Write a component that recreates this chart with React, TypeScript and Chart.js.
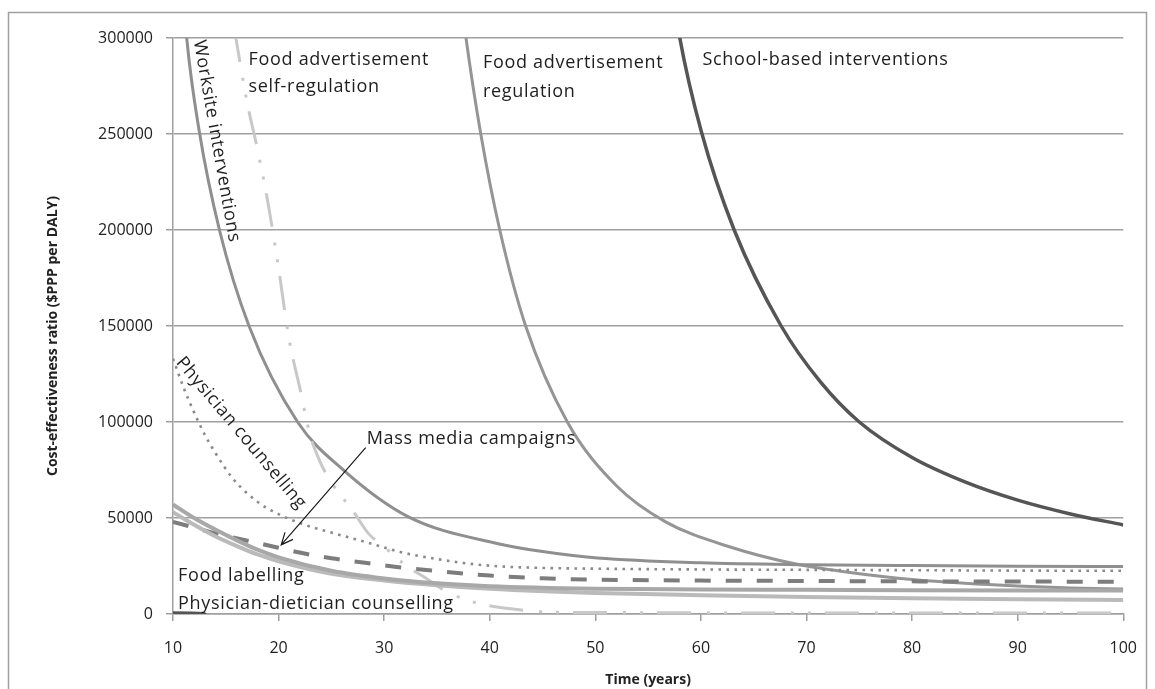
import React, { useEffect, useRef } from 'react';
import { Chart, registerables } from 'chart.js';

Chart.register(...registerables);

// ---------- DATA ----------
const xTickLabels = ['10', '20', '30', '40', '50', '60', '70', '80', '90', '100'];
const yTickLabels = ['0', '50000', '100000', '150000', '200000', '250000', '300000'];
const xTitle = 'Time (years)';
const yTitle = 'Cost-effectiveness ratio ($PPP per DALY)';

const schoolYears = [10, 13, 14, 30, 57.4, 58.0, 60.05, 63.15, 67.6, 71.3, 75.0, 80, 85, 90, 95, 100];
const schoolValues = [500, 0, -30000, null, 322000, 300000, 251000, 200000, 150000, 121000, 100000, 81500, 68800, 59300, 52100, 46400];

const worksiteYears = [10.9, 11.3, 12.5, 14.4, 17.2, 21.8, 26.2, 32.3, 40.8, 45, 50.2, 60, 70, 80, 90, 100];
const worksiteValues = [330000, 300000, 251000, 200000, 150000, 100000, 74700, 50600, 36600, 32500, 29200, 26700, 25700, 25200, 24900, 24700];

const adRegYears = [37.3, 37.75, 39.15, 40.95, 43.4, 47.35, 52.05, 56.65, 62.7, 69, 75, 80, 85, 90, 95, 100];
const adRegValues = [320000, 300000, 250000, 200000, 150000, 100000, 66500, 48000, 35000, 26000, 21000, 18000, 16000, 14600, 13600, 13000];

const selfRegYears = [15.8, 17, 18, 19, 20, 21, 22, 23, 24, 25, 26, 27, 28.5, 30, 32, 34, 36, 38, 40, 42, 45, 50, 60, 80, 100];
const selfRegValues = [305000, 267000, 242000, 214000, 180000, 143000, 118000, 93000, 78500, 68500, 61000, 54000, 42000, 35000, 25500, 18500, 11300, 7000, 4300, 2700, 1100, 800, 600, 500, 500];

const physCounsYears = [10, 11, 12, 13, 14, 15.6, 17.2, 18.5, 20, 22.2, 25.4, 28.5, 31.6, 34.8, 37.9, 41, 45, 50, 60, 70, 80, 90, 100];
const physCounsValues = [133000, 118000, 105000, 93500, 84000, 71000, 62000, 56500, 52000, 47000, 41800, 37100, 32200, 28800, 26300, 24800, 24000, 23600, 23200, 23000, 22800, 22600, 22500];

const massMediaYears = [10, 12, 14, 16, 18, 20, 22, 25, 28, 31, 35, 40, 45, 50, 60, 70, 80, 90, 100];
const massMediaValues = [48000, 45000, 42000, 39500, 37000, 34500, 32000, 29000, 26800, 24600, 22400, 20000, 18600, 17900, 17400, 17200, 17000, 16900, 16800];

const labelYears = [10, 12, 14, 16, 18, 20, 25, 30, 35, 40, 50, 60, 70, 80, 90, 100];
const foodLabellingValues = [57000, 50000, 44000, 38500, 33500, 29500, 22500, 18500, 16000, 14500, 13200, 12800, 12600, 12400, 12300, 12200];
const physDietValues = [53000, 46500, 40500, 35500, 31000, 27500, 21000, 17500, 15000, 13200, 11000, 9800, 8900, 8200, 7700, 7300];

// ---------- ANNOTATIONS ----------
const LABELS = [
  { text: 'Food advertisement', t: 17.15, v: 288800, angle: 0 },
  { text: 'self-regulation', t: 17.15, v: 274700, angle: 0 },
  { text: 'Food advertisement', t: 39.35, v: 287200, angle: 0 },
  { text: 'regulation', t: 39.35, v: 272100, angle: 0 },
  { text: 'School-based interventions', t: 60.14, v: 288800, angle: 0 },
  { text: 'Mass media campaigns', t: 28.34, v: 91400, angle: 0 },
  { text: 'Food labelling', t: 10.47, v: 19800, angle: 0 },
  { text: 'Physician-dietician counselling', t: 10.47, v: 5200, angle: 0 },
  { text: 'Worksite interventions', t: 12.45, v: 298800, angle: 80 },
  { text: 'Physician counselling', t: 10.6, v: 132600, angle: 50 },
];
const ARROW = { fromT: 28.25, fromV: 86700, toT: 20.25, toV: 36000 };

const FONT = '"Open Sans", Lato, sans-serif';

function zip(xs: number[], ys: (number | null)[]) {
  return xs.map((x, i) => ({ x, y: ys[i] }));
}

const annotationPlugin = {
  id: 'annotations',
  afterDatasetsDraw(chart: any) {
    const { ctx, chartArea } = chart;
    const xs = chart.scales.x;
    const ys = chart.scales.y;
    const X = (t: number) => xs.getPixelForValue(t);
    const Y = (v: number) => ys.getPixelForValue(v);
    ctx.save();
    // outer border
    ctx.strokeStyle = '#a0a0a0';
    ctx.lineWidth = 1.5;
    ctx.strokeRect(8.5, 12.5, 1138, 700);

    ctx.fillStyle = '#1e1e1e';
    ctx.font = `18px ${FONT}`;
    try { (ctx as any).letterSpacing = '0.7px'; } catch (e) { /* ignore */ }
    ctx.textBaseline = 'middle';
    ctx.textAlign = 'left';
    for (const l of LABELS) {
      ctx.save();
      ctx.translate(X(l.t), Y(l.v));
      if (l.angle) ctx.rotate((l.angle * Math.PI) / 180);
      ctx.fillText(l.text, 0, 0);
      ctx.restore();
    }
    try { (ctx as any).letterSpacing = '0px'; } catch (e) { /* ignore */ }

    // arrow
    const x1 = X(ARROW.fromT), y1 = Y(ARROW.fromV);
    const x2 = X(ARROW.toT), y2 = Y(ARROW.toV);
    ctx.strokeStyle = '#1a1a1a';
    ctx.lineWidth = 1.2;
    ctx.beginPath();
    ctx.moveTo(x1, y1);
    ctx.lineTo(x2, y2);
    const ang = Math.atan2(y2 - y1, x2 - x1);
    const hl = 13, ha = 0.42;
    ctx.moveTo(x2 - hl * Math.cos(ang - ha), y2 - hl * Math.sin(ang - ha));
    ctx.lineTo(x2, y2);
    ctx.lineTo(x2 - hl * Math.cos(ang + ha), y2 - hl * Math.sin(ang + ha));
    ctx.stroke();

    // axis titles
    ctx.fillStyle = '#222';
    ctx.font = `bold 14px ${FONT}`;
    ctx.textAlign = 'center';
    ctx.fillText(xTitle, (chartArea.left + chartArea.right) / 2, 680);
    ctx.save();
    ctx.translate(53, 336);
    ctx.rotate(-Math.PI / 2);
    ctx.fillText(yTitle, 0, 0);
    ctx.restore();

    ctx.restore();
  },
};

export default function App() {
  const ref = useRef<HTMLCanvasElement | null>(null);

  useEffect(() => {
    if (!ref.current) return;
    const base = {
      pointRadius: 0,
      pointHoverRadius: 0,
      fill: false,
      cubicInterpolationMode: 'monotone' as const,
      borderCapStyle: 'butt' as const,
    };
    const chart = new Chart(ref.current, {
      type: 'line',
      data: {
        datasets: [
          { ...base, label: 'Food labelling', data: zip(labelYears, foodLabellingValues), borderColor: '#a8a8a8', borderWidth: 4 },
          { ...base, label: 'Physician-dietician counselling', data: zip(labelYears, physDietValues), borderColor: '#bababa', borderWidth: 4 },
          { ...base, label: 'Food advertisement self-regulation', data: zip(selfRegYears, selfRegValues), borderColor: '#c8c8c8', borderWidth: 3, borderDash: [34, 16, 3, 14, 3, 14] },
          { ...base, label: 'Mass media campaigns', data: zip(massMediaYears, massMediaValues), borderColor: '#7d7d7d', borderWidth: 4, borderDash: [16, 15] },
          { ...base, label: 'Physician counselling', data: zip(physCounsYears, physCounsValues), borderColor: '#8a8a8a', borderWidth: 2.6, borderDash: [2.6, 5.4] },
          { ...base, label: 'Worksite interventions', data: zip(worksiteYears, worksiteValues), borderColor: '#8f8f8f', borderWidth: 3 },
          { ...base, label: 'Food advertisement regulation', data: zip(adRegYears, adRegValues), borderColor: '#959595', borderWidth: 3 },
          { ...base, label: 'School-based interventions', data: zip(schoolYears, schoolValues), borderColor: '#555555', borderWidth: 3.5 },
        ],
      },
      options: {
        responsive: false,
        animation: false,
        events: [],
        layout: { padding: { left: 0, right: 25, top: 38, bottom: 0 } },
        plugins: { legend: { display: false }, tooltip: { enabled: false }, title: { display: false } },
        scales: {
          x: {
            type: 'linear',
            min: 10,
            max: 100,
            ticks: {
              stepSize: 10,
              padding: 18,
              color: '#222',
              font: { family: FONT, size: 16 },
              callback: (_v: any, i: number) => xTickLabels[i],
              maxRotation: 0,
            },
            grid: { drawOnChartArea: false, drawTicks: true, tickLength: 7, color: '#a0a0a0', lineWidth: 1.5 },
            border: { display: true, color: '#a0a0a0', width: 1.5 },
            title: { display: false },
            afterFit: (s: any) => { s.height = 75; },
          },
          y: {
            min: 0,
            max: 300000,
            ticks: {
              stepSize: 50000,
              padding: 13,
              color: '#222',
              font: { family: FONT, size: 16 },
              callback: (_v: any, i: number) => yTickLabels[i],
            },
            grid: { color: '#a0a0a0', lineWidth: 1.5, tickLength: 7, drawTicks: true },
            border: { display: true, color: '#a0a0a0', width: 1.5 },
            title: { display: false },
            afterFit: (s: any) => { s.width = 173; },
          },
        },
      },
      plugins: [annotationPlugin],
    } as any);
    return () => chart.destroy();
  }, []);

  return (
    <div style={{ position: 'fixed', left: 0, top: 0, width: 1155, height: 689, background: '#fff' }}>
      <canvas ref={ref} width={1155} height={689} style={{ width: 1155, height: 689, display: 'block' }} />
    </div>
  );
}
